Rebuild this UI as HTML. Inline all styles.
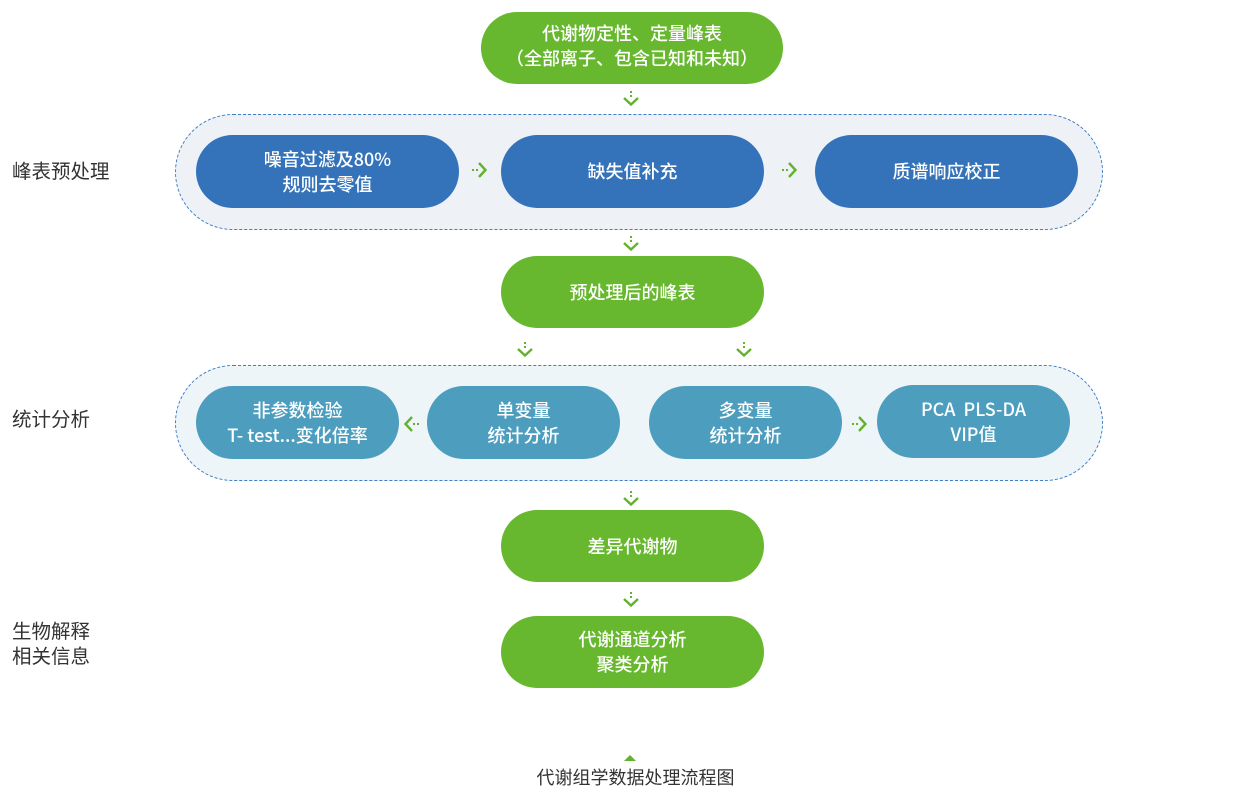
<!DOCTYPE html>
<html><head><meta charset="utf-8">
<style>
html,body{margin:0;padding:0;background:#fff;}
body{width:1247px;height:786px;position:relative;overflow:hidden;font-family:"Liberation Sans","Noto Sans CJK SC",sans-serif;}
.n{position:absolute;display:flex;align-items:center;justify-content:center;text-align:center;color:#fff;font-size:18px;line-height:25px;font-weight:500;border-radius:37px;font-family:"Noto Sans CJK SC","Liberation Sans",sans-serif;}
.g{background:#67b82e;}
.b{background:#3473b9;}
.t{background:#4d9ebe;}
.box{position:absolute;border:1px dashed #3f7fc8;border-radius:60px;box-sizing:border-box;}
.lab{position:absolute;left:12px;font-size:19.5px;line-height:25px;color:#333;font-family:"Noto Sans CJK SC",sans-serif;}
svg.a{position:absolute;overflow:visible;}
</style></head><body>

<div class="box" style="left:175px;top:114px;width:928px;height:116px;background:#eef2f7;"></div>
<div class="box" style="left:175px;top:365px;width:928px;height:116px;background:#eef5f8;"></div>

<div class="n g" style="left:481px;top:12px;width:302px;height:72px;"><div style="margin-top:-4px">代谢物定性、定量峰表<br>（全部离子、包含已知和未知）</div></div>

<div class="n b" style="left:196px;top:135px;width:263px;height:73px;">噪音过滤及80%<br>规则去零值</div>
<div class="n b" style="left:501px;top:135px;width:263px;height:73px;">缺失值补充</div>
<div class="n b" style="left:815px;top:135px;width:263px;height:73px;">质谱响应校正</div>

<div class="n g" style="left:501px;top:256px;width:263px;height:72px;">预处理后的峰表</div>

<div class="n t" style="left:196px;top:386px;width:203px;height:73px;">非参数检验<br>T- test...变化倍率</div>
<div class="n t" style="left:427px;top:386px;width:193px;height:73px;">单变量<br>统计分析</div>
<div class="n t" style="left:649px;top:386px;width:193px;height:73px;">多变量<br>统计分析</div>
<div class="n t" style="left:877px;top:385px;width:193px;height:73px;">PCA&nbsp; PLS-DA<br>VIP值</div>

<div class="n g" style="left:501px;top:510px;width:263px;height:72px;">差异代谢物</div>
<div class="n g" style="left:501px;top:616px;width:263px;height:72px;">代谢通道分析<br>聚类分析</div>

<div class="lab" style="top:157px;">峰表预处理</div>
<div class="lab" style="top:405px;">统计分析</div>
<div class="lab" style="top:617px;">生物解释<br>相关信息</div>

<svg width="1247" height="786" style="position:absolute;left:0;top:0;" xmlns="http://www.w3.org/2000/svg">
<defs>
<g id="dn" fill="none" stroke="#62b22c">
<rect x="-1" y="-7" width="2" height="2" fill="#62b22c" stroke="none"/>
<rect x="-1" y="-3" width="2" height="2" fill="#62b22c" stroke="none"/>
<polyline points="-7,0 0,6.5 7,0" stroke-width="2.4"/>
</g>
</defs>
<use href="#dn" x="631" y="98"/>
<use href="#dn" x="631" y="243"/>
<use href="#dn" x="525" y="349"/>
<use href="#dn" x="744" y="349"/>
<use href="#dn" x="631" y="498"/>
<use href="#dn" x="631" y="599"/>
<use href="#dn" transform="translate(479,170) rotate(-90)"/>
<use href="#dn" transform="translate(789,170) rotate(-90)"/>
<use href="#dn" transform="translate(859,424) rotate(-90)"/>
<use href="#dn" transform="translate(412,424) rotate(90)"/>
<polygon points="624,761 630,755 636,761" fill="#62b22c"/>
</svg>

<div style="position:absolute;left:0;width:1271px;top:765px;text-align:center;font-size:18px;line-height:24px;color:#333;font-family:'Noto Sans CJK SC',sans-serif;">代谢组学数据处理流程图</div>

</body></html>
